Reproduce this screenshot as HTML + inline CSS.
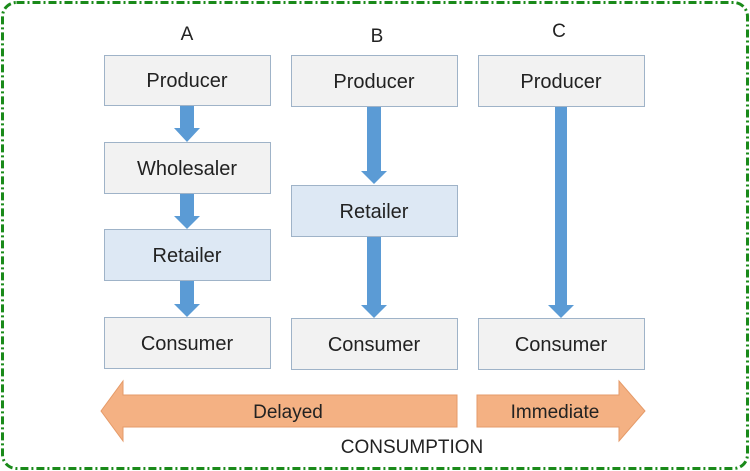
<!DOCTYPE html>
<html><head><meta charset="utf-8"><style>
html,body{margin:0;padding:0;background:#fff;}
svg{display:block;}
text{font-family:"Liberation Sans",sans-serif;fill:#222;}
</style></head><body>
<svg width="750" height="471" viewBox="0 0 750 471" xmlns="http://www.w3.org/2000/svg">
<rect x="2.5" y="2.5" width="745" height="466" rx="14" fill="#fff" stroke="#1a8a1a" stroke-width="3" stroke-dasharray="8 3 2 3"/>
<g font-size="19" text-anchor="middle">
<text x="187" y="40">A</text>
<text x="377" y="42">B</text>
<text x="559" y="37">C</text>
</g>
<g stroke="#9fb3c8" stroke-width="1">
<rect x="104.5" y="55.5" width="166" height="50" fill="#f2f2f2"/>
<rect x="104.5" y="142.5" width="166" height="51" fill="#f2f2f2"/>
<rect x="104.5" y="229.5" width="166" height="51" fill="#dde8f4"/>
<rect x="104.5" y="317.5" width="166" height="51" fill="#f2f2f2"/>
<rect x="291.5" y="55.5" width="166" height="51" fill="#f2f2f2"/>
<rect x="291.5" y="185.5" width="166" height="51" fill="#dde8f4"/>
<rect x="291.5" y="318.5" width="166" height="51" fill="#f2f2f2"/>
<rect x="478.5" y="55.5" width="166" height="51" fill="#f2f2f2"/>
<rect x="478.5" y="318.5" width="166" height="51" fill="#f2f2f2"/>
</g>
<g fill="#5b9bd5">
<polygon points="180,106 194,106 194,128 200,128 187,142 174,128 180,128"/>
<polygon points="180,194 194,194 194,216 200,216 187,229 174,216 180,216"/>
<polygon points="180,281 194,281 194,304 200,304 187,317 174,304 180,304"/>
<polygon points="367,107 381,107 381,171 387,171 374,184 361,171 367,171"/>
<polygon points="367,237 381,237 381,305 387,305 374,318 361,305 367,305"/>
<polygon points="555,107 567,107 567,305 574,305 561,318 548,305 555,305"/>
</g>
<g font-size="20" text-anchor="middle">
<text x="187" y="87">Producer</text>
<text x="187" y="175">Wholesaler</text>
<text x="187" y="262">Retailer</text>
<text x="187" y="350">Consumer</text>
<text x="374" y="88">Producer</text>
<text x="374" y="218">Retailer</text>
<text x="374" y="351">Consumer</text>
<text x="561" y="88">Producer</text>
<text x="561" y="351">Consumer</text>
</g>
<g fill="#f4b183" stroke="#e59a68" stroke-width="1">
<polygon points="101,411 123,381 123,395 457,395 457,427 123,427 123,441"/>
<polygon points="477,395 619,395 619,381 645,411 619,441 619,427 477,427"/>
</g>
<g font-size="19" text-anchor="middle">
<text x="288" y="418">Delayed</text>
<text x="555" y="418">Immediate</text>
<text x="412" y="453">CONSUMPTION</text>
</g>
</svg>
</body></html>
